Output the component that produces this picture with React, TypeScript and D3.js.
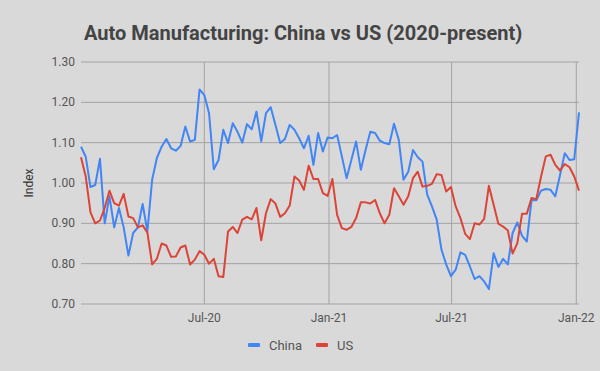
import React, { useEffect, useRef } from "react";
import * as d3 from "d3";

// weekly index values, first week of Jan 2020 through first week of Jan 2022
const startDate = new Date(2020, 0, 1);

const chinaValues = [
  1.09, 1.065, 0.99, 0.995, 1.06, 0.9, 0.967, 0.89, 0.938, 0.89,
  0.82, 0.876, 0.89, 0.948, 0.88, 1.008, 1.062, 1.09, 1.109, 1.086,
  1.08, 1.092, 1.14, 1.103, 1.107, 1.232, 1.218, 1.173, 1.034, 1.057,
  1.132, 1.099, 1.148, 1.127, 1.1, 1.146, 1.133, 1.177, 1.103, 1.173,
  1.188, 1.144, 1.099, 1.109, 1.144, 1.132, 1.111, 1.086, 1.117, 1.045,
  1.124, 1.078, 1.113, 1.111, 1.119, 1.066, 1.012, 1.057, 1.103, 1.033,
  1.082, 1.127, 1.124, 1.105, 1.099, 1.096, 1.147, 1.107, 1.008, 1.028,
  1.082, 1.064, 1.053, 0.971, 0.942, 0.909, 0.835, 0.798, 0.769, 0.785,
  0.828, 0.822, 0.793, 0.762, 0.769, 0.756, 0.737, 0.826, 0.792, 0.812,
  0.798, 0.876, 0.902, 0.869, 0.855, 0.958, 0.957, 0.981, 0.985, 0.983,
  0.967, 1.02, 1.074, 1.057, 1.059, 1.175,
];

const usValues = [
  1.064, 1.016, 0.927, 0.9, 0.907, 0.938, 0.981, 0.95, 0.944, 0.973,
  0.917, 0.913, 0.89, 0.895, 0.877, 0.798, 0.812, 0.85, 0.845, 0.817,
  0.818, 0.84, 0.845, 0.798, 0.81, 0.831, 0.822, 0.8, 0.812, 0.769,
  0.767, 0.88, 0.891, 0.876, 0.909, 0.916, 0.91, 0.938, 0.858, 0.925,
  0.96, 0.949, 0.916, 0.925, 0.944, 1.016, 1.006, 0.983, 1.043, 1.01,
  1.01, 0.975, 0.968, 1.01, 0.921, 0.888, 0.884, 0.891, 0.913, 0.952,
  0.952, 0.949, 0.958, 0.925, 0.9, 0.921, 0.987, 0.967, 0.946, 0.967,
  1.012, 1.028, 0.991, 0.993, 0.998, 1.022, 1.02, 0.979, 0.99, 0.942,
  0.913, 0.874, 0.861, 0.9, 0.897, 0.911, 0.993, 0.946, 0.899, 0.892,
  0.882, 0.825, 0.851, 0.924, 0.924, 0.963, 0.96, 1.016, 1.066, 1.07,
  1.045, 1.031, 1.047, 1.039, 1.016, 0.981,
];

const xTickDates = [
  new Date(2020, 6, 1),
  new Date(2021, 0, 1),
  new Date(2021, 6, 1),
  new Date(2022, 0, 1),
];
const yTicks = [0.7, 0.8, 0.9, 1.0, 1.1, 1.2, 1.3];

const series = [
  { name: "China", values: chinaValues, color: "#4285f4" },
  { name: "US", values: usValues, color: "#db4437" },
];

const App: React.FC = () => {
  const chartRef = useRef<SVGSVGElement | null>(null);

  useEffect(() => {
    const width = 600;
    const height = 371;
    const margin = { top: 62, right: 21, bottom: 67, left: 81 };

    const svgRoot = d3.select(chartRef.current);
    svgRoot.selectAll("*").remove();
    svgRoot.attr("width", width).attr("height", height);

    svgRoot
      .append("rect")
      .attr("width", width)
      .attr("height", height)
      .attr("fill", "#d9d9d9");

    const dates = chinaValues.map((_, i) => d3.timeDay.offset(startDate, i * 7));

    const x = d3
      .scaleTime()
      .domain([dates[0], dates[dates.length - 1]])
      .range([margin.left, width - margin.right]);

    const y = d3
      .scaleLinear()
      .domain([0.7, 1.3])
      .range([height - margin.bottom, margin.top]);

    const font = "Roboto, sans-serif";

    // title
    svgRoot
      .append("text")
      .attr("x", 84)
      .attr("y", 40)
      .attr("font-family", font)
      .attr("font-size", 20)
      .attr("font-weight", "bold")
      .attr("fill", "#444")
      .text("Auto Manufacturing: China vs US (2020-present)");

    // grid
    const grid = svgRoot.append("g");
    grid
      .selectAll("line.h")
      .data(yTicks)
      .enter()
      .append("line")
      .attr("x1", margin.left)
      .attr("x2", width - margin.right)
      .attr("y1", (d) => y(d))
      .attr("y2", (d) => y(d))
      .attr("stroke", "#a3a3a3")
      .attr("stroke-width", 1);

    grid
      .selectAll("line.v")
      .data(xTickDates)
      .enter()
      .append("line")
      .attr("x1", (d) => x(d))
      .attr("x2", (d) => x(d))
      .attr("y1", margin.top)
      .attr("y2", height - margin.bottom)
      .attr("stroke", "#a3a3a3")
      .attr("stroke-width", 1);

    svgRoot
      .append("g")
      .selectAll("text")
      .data(yTicks)
      .enter()
      .append("text")
      .attr("x", 75)
      .attr("y", (d) => y(d) + 4)
      .attr("text-anchor", "end")
      .attr("font-family", font)
      .attr("font-size", 12)
      .attr("fill", "#555")
      .text((d) => d3.format(".2f")(d));

    const fmt = d3.timeFormat("%b-%y");
    svgRoot
      .append("g")
      .selectAll("text")
      .data(xTickDates)
      .enter()
      .append("text")
      .attr("x", (d) => x(d))
      .attr("y", 322)
      .attr("text-anchor", "middle")
      .attr("font-family", font)
      .attr("font-size", 12)
      .attr("fill", "#555")
      .text((d) => fmt(d));

    svgRoot
      .append("text")
      .attr("transform", `translate(33,${y(1.0)}) rotate(-90)`)
      .attr("text-anchor", "middle")
      .attr("font-family", font)
      .attr("font-size", 12)
      .attr("fill", "#333")
      .text("Index");

    // lines
    const line = d3
      .line<number>()
      .x((_, i) => x(dates[i]))
      .y((d) => y(d));

    svgRoot
      .append("g")
      .selectAll("path")
      .data(series)
      .enter()
      .append("path")
      .attr("d", (d) => line(d.values))
      .attr("fill", "none")
      .attr("stroke", (d) => d.color)
      .attr("stroke-width", 2)
      .attr("stroke-linejoin", "round");

    // legend
    const legend = svgRoot.append("g");
    const legendX = [248, 316];
    series.forEach((s, i) => {
      legend
        .append("rect")
        .attr("x", legendX[i])
        .attr("y", 343)
        .attr("width", 12)
        .attr("height", 4)
        .attr("rx", 1)
        .attr("fill", s.color);
      legend
        .append("text")
        .attr("x", legendX[i] + 21)
        .attr("y", 349.5)
        .attr("font-family", font)
        .attr("font-size", 13)
        .attr("fill", "#555")
        .text(s.name);
    });
  }, []);

  return (
    <svg
      ref={chartRef}
      style={{ position: "absolute", left: 0, top: 0, display: "block" }}
    ></svg>
  );
};

export default App;
